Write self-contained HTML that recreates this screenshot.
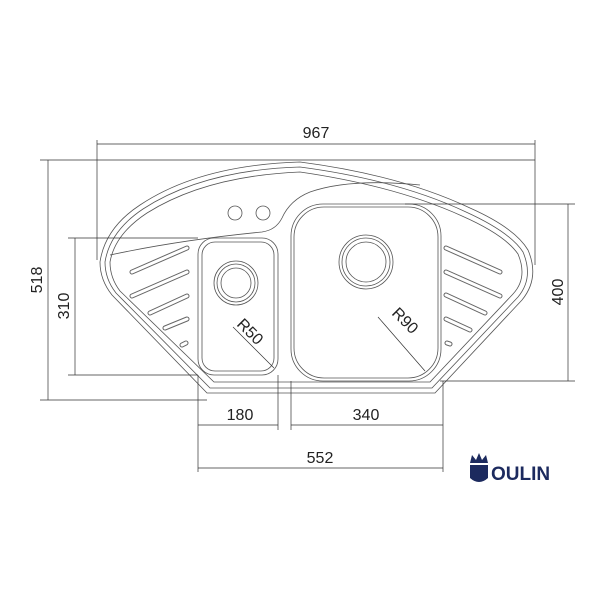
<!DOCTYPE html>
<html><head><style>body{margin:0;background:#fff}svg{display:block}</style></head><body>
<svg width="600" height="600" viewBox="0 0 600 600" xmlns="http://www.w3.org/2000/svg" font-family="Liberation Sans, sans-serif">
<g fill="none" stroke="#555" stroke-width="0.8">
<path d="M207,393 L435,393 L522,300 Q540,278 528,250 Q515,228 470,208 Q400,175 300,162 Q200,165 140,205 Q105,228 100,262 Q100,280 112,295 Z"/>
<path d="M210,388 L432,388 L518,297 Q534,278 523,252 Q510,232 466,212 Q398,180 300,167 Q203,170 143,209 Q110,231 105,262 Q105,279 116,293 Z"/>
<path d="M214,382 L430,382 L513,294 Q528,278 518,254 Q505,235 462,216 Q396,186 300,172 Q206,176 147,213 Q115,234 110,262 Q110,278 120,291 Z"/>
<path d="M110,255 Q180,240 262,232 Q276,230 282,218 Q290,200 310,192 Q350,178 420,185"/>
<rect x="198" y="238" width="80" height="137" rx="16"/>
<rect x="202" y="242" width="72" height="129" rx="13"/>
<circle cx="236" cy="283" r="22"/><circle cx="236" cy="283" r="19"/><circle cx="236" cy="283" r="15"/>
<rect x="291" y="204" width="150" height="177" rx="32"/>
<rect x="294" y="207" width="144" height="171" rx="30"/>
<circle cx="366" cy="262" r="27"/><circle cx="366" cy="262" r="24"/><circle cx="366" cy="262" r="20"/>
<circle cx="235" cy="213" r="7"/><circle cx="263" cy="213" r="7"/>
</g>
<g fill="none" stroke="#666" stroke-width="5" stroke-linecap="round">
<path d="M132,272 L187,248 M132,296 L187,272 M150,313 L187,296 M165,328 L187,319 M182,345 L186,343"/>
<path d="M446,248 L500,272 M446,272 L500,296 M446,295 L485,313 M446,319 L470,330 M447,343 L450,344"/>
</g>
<g fill="none" stroke="#fff" stroke-width="3" stroke-linecap="round">
<path d="M132,272 L187,248 M132,296 L187,272 M150,313 L187,296 M165,328 L187,319 M182,345 L186,343"/>
<path d="M446,248 L500,272 M446,272 L500,296 M446,295 L485,313 M446,319 L470,330 M447,343 L450,344"/>
</g>
<g stroke="#333" stroke-width="0.7" fill="none">
<path d="M97,144 L535,144 M97,140 L97,260 M535,140 L535,265"/>
<path d="M40,160 L535,160 M40,400 L207,400 M48,160 L48,400"/>
<path d="M68,238 L198,238 M68,375 L198,375 M75,238 L75,375"/>
<path d="M405,204 L575,204 M440,381 L575,381 M568,204 L568,381"/>
<path d="M198,375 L198,472 M278,375 L278,430 M291,381 L291,430 M443,381 L443,472"/>
<path d="M198,425 L278,425 M291,425 L443,425 M198,468 L443,468"/>
<path d="M233,327 L274,368 M378,317 L425,371"/>
</g>
<g font-size="16" fill="#222">
<text x="316" y="138" text-anchor="middle">967</text>
<text x="240" y="420" text-anchor="middle">180</text>
<text x="366" y="420" text-anchor="middle">340</text>
<text x="320" y="463" text-anchor="middle">552</text>
<text transform="translate(42,280) rotate(-90)" text-anchor="middle">518</text>
<text transform="translate(69,306) rotate(-90)" text-anchor="middle">310</text>
<text transform="translate(563,292) rotate(-90)" text-anchor="middle">400</text>
<text transform="translate(236,325) rotate(45)">R50</text>
<text transform="translate(391,314) rotate(45)">R90</text>
</g>
<g fill="#1c2a5e">
<path d="M470,465 L488,465 L488,478 Q479,486 470,478 Z"/>
<path d="M470,463 L472,455 L476,460 L479,453 L482,460 L486,455 L488,463 Z"/>
<text x="491" y="480" font-size="19" font-weight="bold">OULIN</text>
</g>
</svg>
</body></html>
